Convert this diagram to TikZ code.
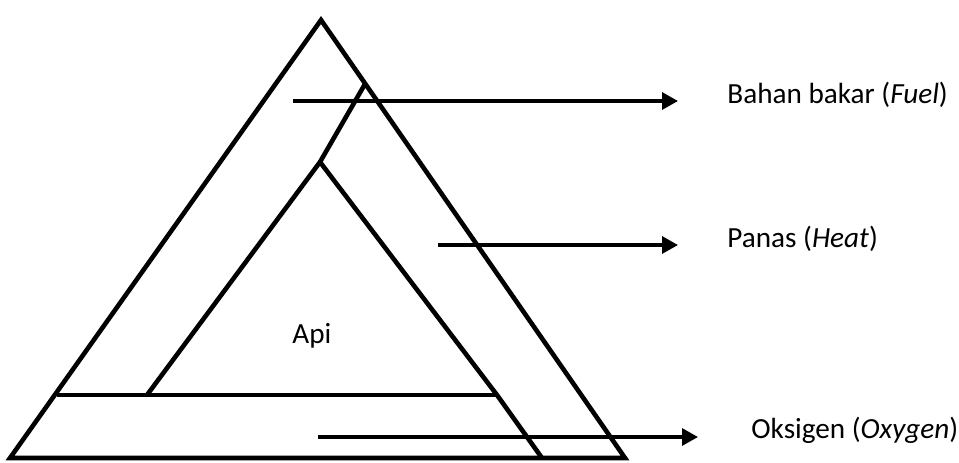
\documentclass[tikz,border=0pt]{standalone}
\usepackage{fontspec}
\setmainfont{Carlito}
\usetikzlibrary{arrows.meta}

\begin{document}
\begin{tikzpicture}[x=0.5pt, y=-0.5pt, >={Triangle[length=8pt,width=8.5pt]},
  edge/.style={line width=2.3pt, line join=miter},
  pointer/.style={->, line width=1.6pt},
  lbl/.style={anchor=base west, inner sep=0pt, font=\fontsize{14.6}{17}\selectfont}]
\useasboundingbox (0,0) rectangle (959,462);
% --- outer triangle ---
\coordinate (top) at (321,20);
\coordinate (bl) at (10,458);
\coordinate (br) at (625,458);
\draw[edge] (top) -- (br) -- (bl) -- cycle;
% --- inner layers ---
\coordinate (itop) at (320,162);
\coordinate (ileft) at (147,395);
\coordinate (iright) at (497,395);
\coordinate (rim) at (365,84);
\coordinate (baseL) at (57,395);
\coordinate (foot) at (542,458);
\draw[edge] (ileft) -- (itop) -- (rim);
\draw[edge] (itop) -- (iright) -- (foot);
\draw[edge] (baseL) -- (iright);
% --- labels ---
\node[lbl] (api) at (292,343) {Api};
\node[lbl] (fuel) at (727,103) {Bahan bakar (\textit{Fuel})};
\node[lbl] (heat) at (727,247) {Panas (\textit{Heat})};
\node[lbl] (oxy) at (751,438) {Oksigen (\textit{Oxygen})};
% --- pointers ---
\coordinate (f0) at (293,101);
\coordinate (f1) at (678,101);
\coordinate (h0) at (438,245);
\coordinate (h1) at (678,245);
\coordinate (o0) at (318,437);
\coordinate (o1) at (698,437);
\draw[pointer] (f0) -- (f1);
\draw[pointer] (h0) -- (h1);
\draw[pointer] (o0) -- (o1);
\end{tikzpicture}
\end{document}
